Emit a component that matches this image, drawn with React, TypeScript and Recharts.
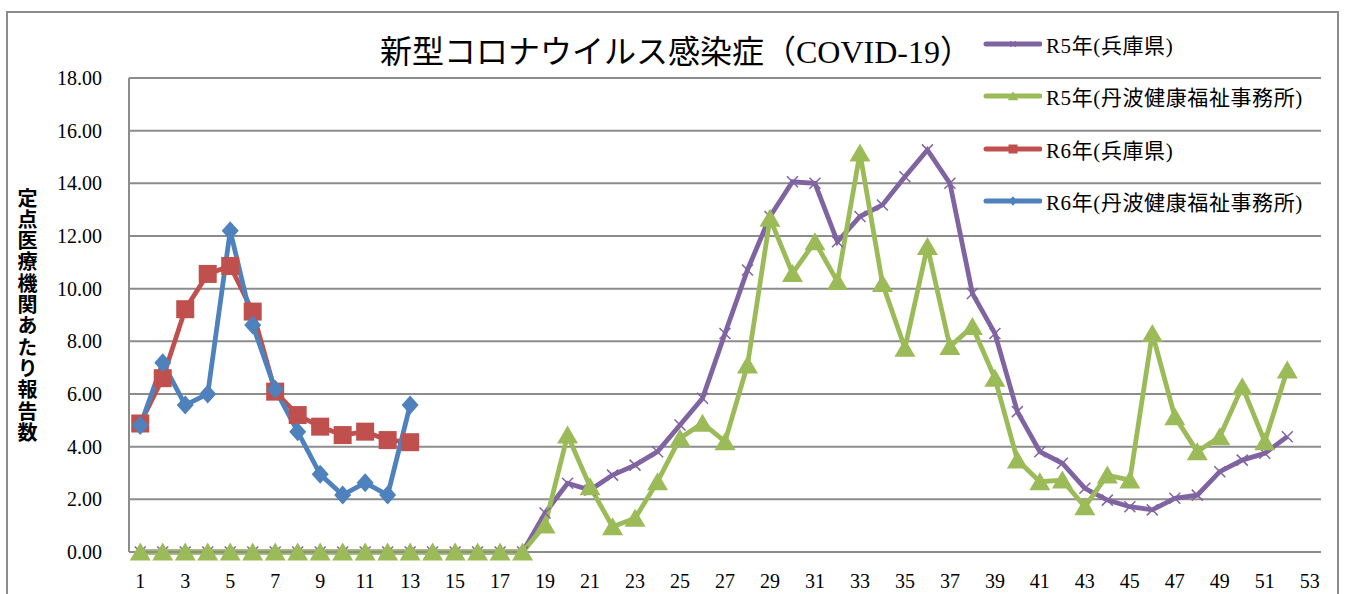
import { LineChart, Line, XAxis, YAxis, CartesianGrid, Legend } from "recharts";

const weeks = Array.from({ length: 53 }, (_, i) => i + 1);

const zeros18 = Array(18).fill(0);

const r5Hyogo = [
  ...zeros18,
  1.48, 2.61, 2.35, 2.92, 3.3, 3.81, 4.82, 5.84, 8.3, 10.71, 12.74, 14.06, 14.0,
  11.78, 12.74, 13.18, 14.25, 15.27, 14.0, 9.82, 8.3, 5.33, 3.81, 3.37, 2.42,
  1.97, 1.72, 1.6, 2.04, 2.16, 3.05, 3.49, 3.75, 4.38,
];

const r5Tamba = [
  ...zeros18,
  1.03, 4.44, 2.48, 0.96, 1.28, 2.67, 4.32, 4.89, 4.19, 7.1, 12.67, 10.58, 11.78,
  10.27, 15.15, 10.2, 7.74, 11.6, 7.8, 8.56, 6.6, 3.49, 2.67, 2.73, 1.72, 2.92,
  2.73, 8.3, 5.14, 3.81, 4.38, 6.28, 4.19, 6.91,
];

const r6Hyogo = [4.88, 6.6, 9.22, 10.56, 10.86, 9.13, 6.09, 5.2, 4.76, 4.44, 4.57, 4.25, 4.17];

const r6Tamba = [4.8, 7.19, 5.58, 6.0, 12.2, 8.62, 6.18, 4.57, 2.95, 2.16, 2.63, 2.16, 5.58];

const yTicks = [0, 2, 4, 6, 8, 10, 12, 14, 16, 18];

const data = weeks.map((w, i) => ({
  week: w,
  r5Hyogo: r5Hyogo[i] ?? null,
  r5Tamba: r5Tamba[i] ?? null,
  r6Hyogo: r6Hyogo[i] ?? null,
  r6Tamba: r6Tamba[i] ?? null,
}));

const PURPLE = "#8064A2";
const GREEN = "#9BBB59";
const RED = "#C0504D";
const BLUE = "#4F81BD";
const GRID = "#8c8c8c";
const FONT = '"Liberation Serif", "Noto Sans CJK JP", serif';

function marker(kind: string, cx: number, cy: number, color: string, s = 1) {
  if (kind === "x") {
    const d = 5.5 * s;
    return (
      <g>
        <line x1={cx - d} y1={cy - d} x2={cx + d} y2={cy + d} stroke={color} strokeWidth={1.5} />
        <line x1={cx - d} y1={cy + d} x2={cx + d} y2={cy - d} stroke={color} strokeWidth={1.5} />
      </g>
    );
  }
  if (kind === "triangle") {
    return (
      <polygon
        points={`${cx},${cy - 9.5 * s} ${cx - 10.5 * s},${cy + 8.5 * s} ${cx + 10.5 * s},${cy + 8.5 * s}`}
        fill={color}
      />
    );
  }
  if (kind === "square") {
    return <rect x={cx - 9 * s} y={cy - 9 * s} width={18 * s} height={18 * s} fill={color} />;
  }
  return (
    <polygon
      points={`${cx},${cy - 9.5 * s} ${cx + 8.5 * s},${cy} ${cx},${cy + 9.5 * s} ${cx - 8.5 * s},${cy}`}
      fill={color}
    />
  );
}

const makeDot = (kind: string, color: string) => (p: any) => {
  if (p.cx == null || p.cy == null || p.value == null) return <g key={`e-${kind}-${p.index}`} />;
  return <g key={`${kind}-${p.index}`}>{marker(kind, p.cx, p.cy, color)}</g>;
};

const series = [
  { key: "r5Hyogo", name: "R5年(兵庫県)", color: PURPLE, kind: "x" },
  { key: "r5Tamba", name: "R5年(丹波健康福祉事務所)", color: GREEN, kind: "triangle" },
  { key: "r6Hyogo", name: "R6年(兵庫県)", color: RED, kind: "square" },
  { key: "r6Tamba", name: "R6年(丹波健康福祉事務所)", color: BLUE, kind: "diamond" },
];

function renderLegend(props: any) {
  const payload = props.payload || [];
  const keys = payload.map((p: any) => p.dataKey);
  const items = series.filter((s) => keys.length === 0 || keys.includes(s.key));
  return (
    <div style={{ fontFamily: FONT, fontSize: 21, letterSpacing: 0.6, color: "#000" }}>
      {items.map((s) => (
        <div key={s.key} style={{ height: 52.3, display: "flex", alignItems: "center" }}>
          <svg width={60} height={20} style={{ flex: "none" }}>
            <line x1={4} y1={10} x2={58} y2={10} stroke={s.color} strokeWidth={5} strokeLinecap="round" />
            {marker(s.kind, 31, 10, s.color, 0.5)}
          </svg>
          <span style={{ marginLeft: 4, whiteSpace: "nowrap" }}>{s.name}</span>
        </div>
      ))}
    </div>
  );
}

export default function App() {
  return (
    <div
      style={{
        position: "absolute",
        left: 0,
        top: 0,
        width: 1346,
        height: 594,
        overflow: "hidden",
        background: "#fff",
      }}
    >
      <div
        style={{
          position: "absolute",
          left: 6,
          top: 11,
          width: 1333,
          height: 620,
          border: "2px solid #8c8c8c",
          boxSizing: "border-box",
        }}
      />
      <div
        style={{
          position: "absolute",
          left: 0,
          top: 35,
          width: 1352,
          textAlign: "center",
          fontFamily: FONT,
          fontSize: 32,
          lineHeight: "34px",
          color: "#000",
        }}
      >
        新型コロナウイルス感染症（COVID-19）
      </div>
      <div
        style={{
          position: "absolute",
          left: 17,
          top: 188,
          writingMode: "vertical-rl",
          fontFamily: '"Noto Sans CJK JP", sans-serif',
          fontWeight: "bold",
          fontSize: 20,
          lineHeight: 1,
          letterSpacing: 1.3,
          color: "#000",
        }}
      >
        定点医療機関あたり報告数
      </div>
      <div style={{ position: "absolute", left: 0, top: 0 }}>
        <LineChart
          width={1346}
          height={594}
          data={data}
          margin={{ top: 78, right: 25, bottom: 12, left: 0 }}
        >
          <CartesianGrid vertical={false} stroke={GRID} strokeWidth={2} />
          <XAxis
            dataKey="week"
            type="category"
            height={30}
            interval={1}
            padding={{ left: 11.25, right: 11.25 }}
            axisLine={{ stroke: GRID, strokeWidth: 2 }}
            tickLine={false}
            tickSize={0}
            tickMargin={22}
            tick={{ fontSize: 20, fill: "#000", fontFamily: FONT }}
          />
          <YAxis
            domain={[0, 18]}
            ticks={yTicks}
            width={129}
            interval={0}
            axisLine={{ stroke: GRID, strokeWidth: 2 }}
            tickLine={false}
            tickSize={0}
            tickMargin={27}
            tickFormatter={(v: number) => v.toFixed(2)}
            tick={{ fontSize: 20, fill: "#000", fontFamily: FONT }}
          />
          <Legend
            layout="vertical"
            align="center"
            verticalAlign="middle"
            content={renderLegend}
            wrapperStyle={{ left: 982, top: 18, width: 362 }}
          />
          {series.map((s) => (
            <Line
              key={s.key}
              type="linear"
              dataKey={s.key}
              name={s.name}
              stroke={s.color}
              strokeWidth={4.8}
              dot={makeDot(s.kind, s.color)}
              activeDot={false}
              connectNulls={false}
              isAnimationActive={false}
            />
          ))}
        </LineChart>
      </div>
    </div>
  );
}
